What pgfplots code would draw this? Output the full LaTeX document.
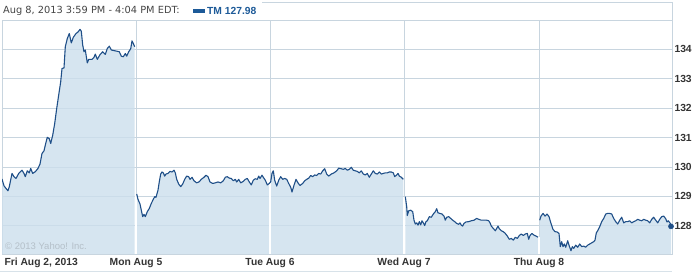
\documentclass[border=0pt]{standalone}
\usepackage{pgfplots}
\pgfplotsset{compat=1.18}
\usepackage{pgfplotstable}
\usepackage{fontspec}
\setmainfont{Liberation Sans}
\newfontfamily\titlefont{DejaVu Sans}
\definecolor{linec}{HTML}{1F4F88}
\definecolor{fillc}{HTML}{CCDEEC}
\definecolor{gridc}{HTML}{C8D5DF}
\definecolor{txt}{HTML}{333333}
\definecolor{ttl}{HTML}{444444}
\definecolor{legc}{HTML}{1D5A98}
\definecolor{copyc}{HTML}{B4C0C9}

\pgfplotstableread{
x y
2 129.59
4 129.36
6 129.27
8 129.19
9.3 129.33
12 129.78
14 129.67
16 129.61
18.7 129.78
22 129.89
24 129.78
25.3 129.67
27.3 129.87
29.3 129.80
30.7 129.95
32.7 129.78
35.3 129.84
38 129.95
40 130.10
42 130.46
44 130.55
45.3 130.74
47.3 131.01
49.3 130.96
50.7 130.80
52.7 131.08
54.7 131.48
56.7 131.99
58.7 132.45
60.7 132.90
62 133.35
64 133.37
65.3 134.09
67.3 134.37
69.3 134.54
71.3 134.22
73.3 134.41
76 134.54
78 134.59
80 134.68
81.3 134.62
82.7 134.15
84 133.92
85.3 133.98
87.3 133.54
88.7 133.66
92 133.66
94 133.73
95.3 133.84
97.3 133.66
100 133.82
102.7 133.92
105.3 133.83
107.3 134.03
109.3 134.11
111.3 133.98
115.3 133.95
119.3 133.92
121.3 133.77
123.3 133.75
125.3 133.86
126.7 133.77
128.7 133.92
130.7 134.02
132 134.29
133.3 134.20
134.7 134.09
}\fri

\pgfplotstableread{
x y
136.7 129.08
138 128.90
140 128.74
141.3 128.53
142.7 128.31
144 128.39
145.3 128.31
147.3 128.48
149.3 128.59
151.3 128.76
153.3 128.90
154.7 128.99
156 128.97
158 129.21
159.3 129.50
160.7 129.76
162 129.83
163.3 129.80
164.7 129.69
166 129.76
168 129.78
170 129.85
172 129.83
174 129.89
175.3 129.80
176.7 129.58
178.7 129.42
180.7 129.33
182.7 129.42
184.7 129.58
186.7 129.69
188.7 129.67
190 129.58
192 129.65
194 129.53
196.7 129.46
199.3 129.50
201.3 129.58
204 129.65
206 129.72
208 129.67
210 129.49
212.7 129.44
215.3 129.46
218 129.49
220.7 129.46
223.3 129.53
225.3 129.65
227.3 129.67
229.3 129.62
231.3 129.61
233.3 129.53
235.3 129.58
236.7 129.49
238.7 129.58
240.7 129.46
243.3 129.51
245.3 129.58
247.3 129.61
249.3 129.49
251.3 129.39
253.3 129.55
255.3 129.60
257.3 129.58
258.7 129.69
260 129.61
262 129.72
263.3 129.65
265.3 129.55
267.3 129.39
269.3 129.44
270.7 129.50
272 129.78
273.3 129.87
274.7 129.55
276.7 129.35
278.7 129.55
280.7 129.67
282.7 129.58
284.7 129.61
286.7 129.58
288.7 129.44
290.7 129.31
292 129.15
294 129.38
296 129.58
298 129.46
300 129.37
302.7 129.44
304.7 129.53
306.7 129.58
308.7 129.62
310.7 129.71
312.7 129.67
314.7 129.73
316.7 129.71
318.7 129.78
320.7 129.76
322.7 129.87
324.7 129.94
326.7 129.76
328.7 129.69
331.3 129.76
334 129.80
336.7 129.87
338.7 129.96
341.3 129.94
343.3 129.92
345.3 129.95
347.3 129.89
349.3 129.92
351.3 129.99
353.3 129.89
355.3 129.87
357.3 129.85
359.3 129.80
361.3 129.87
363.3 129.76
365.3 129.73
367.3 129.78
369.3 129.65
371.3 129.76
373.3 129.87
375.3 129.78
377.3 129.76
379.3 129.83
381.3 129.76
383.3 129.78
385.3 129.80
387.3 129.80
389.3 129.83
391.3 129.83
393.3 129.80
394.7 129.67
396.7 129.73
398 129.78
399.3 129.69
401.3 129.65
403.3 129.58
}\montue

\pgfplotstableread{
x y
405.3 128.99
406.7 128.65
407.3 128.35
408.7 128.51
410.7 128.53
412.7 128.48
414 128.19
415.3 128.06
416.7 128.10
418 128.02
419.3 128.14
420.7 128.03
422 128.17
423.3 128.10
424.7 128.01
426 128.14
427.3 128.17
429.3 128.31
431.3 128.29
433.3 128.40
435.3 128.48
436.7 128.58
438 128.44
440 128.42
442 128.40
444 128.33
445.3 128.19
446.7 128.29
448.7 128.31
450.7 128.25
452.7 128.19
454.7 128.14
456.7 128.08
458.7 128.05
460 128.10
461.3 128.02
462.7 127.99
464 128.08
466 128.13
468.7 128.14
471.3 128.17
474 128.19
476.7 128.25
478.7 128.22
481.3 128.19
484 128.19
486.7 128.19
488.7 128.17
490 128.10
491.3 127.99
493.3 127.91
495.3 127.83
496.7 127.91
498 127.99
499.3 127.90
501.3 127.83
503.3 127.80
505.3 127.74
507.3 127.65
509.3 127.54
511.3 127.57
513.3 127.51
515.3 127.61
517.3 127.57
519.3 127.67
521.3 127.72
523.3 127.67
525.3 127.72
527.3 127.74
528.7 127.54
530 127.67
532 127.74
534 127.68
536 127.65
538 127.61
}\wed

\pgfplotstableread{
x y
539.7 128.19
541 128.33
543 128.42
545 128.33
547 128.40
549 128.31
551 128.08
553 127.88
555 127.80
557 127.79
559 127.74
560.3 127.29
561.7 127.46
563 127.29
564.3 127.38
565.7 127.27
567.7 127.49
569 127.34
571 127.15
572.3 127.29
573.7 127.23
575.7 127.34
577.7 127.27
579.7 127.38
581.7 127.29
583.7 127.31
585.7 127.27
587.7 127.34
589.7 127.38
591.7 127.42
593.7 127.46
595 127.51
596.3 127.76
597.7 127.83
599.7 127.97
601.7 128.14
603.7 128.25
605.7 128.40
607.7 128.42
609.7 128.42
611.7 128.40
613.7 128.25
615.7 128.14
617.7 128.06
619.7 128.19
621.7 128.29
623.7 128.10
625.7 128.14
627.7 128.14
629.7 128.17
631.7 128.10
633.7 128.14
635.7 128.17
637.7 128.22
639.7 128.19
641.7 128.17
643.7 128.22
645.7 128.19
647.7 128.17
649.7 128.10
651.7 128.22
653.7 128.29
655.7 128.19
657.7 128.10
659.7 128.22
661.7 128.31
663.7 128.33
665.7 128.24
667 128.13
668.3 128.17
670.3 128.08
671 127.98
}\thu

\begin{document}
\begin{tikzpicture}
\path[use as bounding box] (0pt,0pt) rectangle (698pt,272pt);
\draw[gridc!70!white, line width=0.8pt] (0pt,1pt) -- (672pt,1pt);
\draw[gridc, line width=0.8pt] (262pt,269.3pt) -- (672pt,269.3pt) -- (672pt,252pt);
\node[anchor=west, inner sep=0, font=\titlefont\fontsize{9.8}{12}\selectfont, text=ttl] at (3pt,261pt) {Aug 8, 2013 3:59 PM - 4:04 PM EDT:};
\fill[legc] (193pt,258.8pt) rectangle (205pt,262.8pt);
\node[anchor=west, inner sep=0, font=\bfseries\fontsize{10.3}{12}\selectfont, text=legc] at (207pt,261pt) {TM 127.98};
\begin{axis}[
  at={(2pt,18pt)}, anchor=south west,
  width=670pt, height=234pt, scale only axis,
  xmin=2, xmax=672, ymin=127.04, ymax=135.0,
  axis on top=false,
  axis line style={draw=gridc, line width=0.8pt},
  ytick={128,129,130,131,132,133,134},
  yticklabel pos=right,
  yticklabel style={anchor=west, xshift=-1pt},
  xtick={136,270,404,539},
  xticklabels={Mon Aug 5, Tue Aug 6, Wed Aug 7, Thu Aug 8},
  extra x ticks={2},
  extra x tick labels={Fri Aug 2{,} 2013},
  extra x tick style={grid=none, xticklabel style={anchor=north west, xshift=-1pt}},
  xticklabel style={yshift=-0.5pt},
  major tick length=0pt,
  xmajorgrids, ymajorgrids,
  grid style={draw=gridc, line width=0.8pt},
  tick label style={font=\bfseries\fontsize{10.3}{12}\selectfont, text=txt},
  /pgf/number format/assume math mode=true,
]
\addplot[draw=none, fill=fillc, fill opacity=0.8] table {\fri} \closedcycle;
\addplot[draw=none, fill=fillc, fill opacity=0.8] table {\montue} \closedcycle;
\addplot[draw=none, fill=fillc, fill opacity=0.8] table {\wed} \closedcycle;
\addplot[draw=none, fill=fillc, fill opacity=0.8] table {\thu} \closedcycle;
\addplot[white, line width=1.2pt] coordinates {(136,127.0) (136,129.08)};
\addplot[white, line width=1.2pt] coordinates {(270,127.0) (270,129.44)};
\addplot[white, line width=1.2pt] coordinates {(404,127.0) (404,128.99)};
\addplot[white, line width=1.2pt] coordinates {(539,127.0) (539,127.61)};
\addplot[linec, line width=1.1pt, line join=round] table {\fri};
\addplot[linec, line width=1.1pt, line join=round] table {\montue};
\addplot[linec, line width=1.1pt, line join=round] table {\wed};
\addplot[linec, line width=1.1pt, line join=round] table {\thu};
\addplot[only marks, mark=*, mark size=2.6pt, mark options={fill=linec, draw=linec}] coordinates {(671,127.98)};
\node[anchor=west, inner sep=0, font=\fontsize{9.5}{10}\selectfont, text=copyc] at (axis cs:5,127.32) {© 2013 Yahoo! Inc.};
\end{axis}
\end{tikzpicture}
\end{document}
